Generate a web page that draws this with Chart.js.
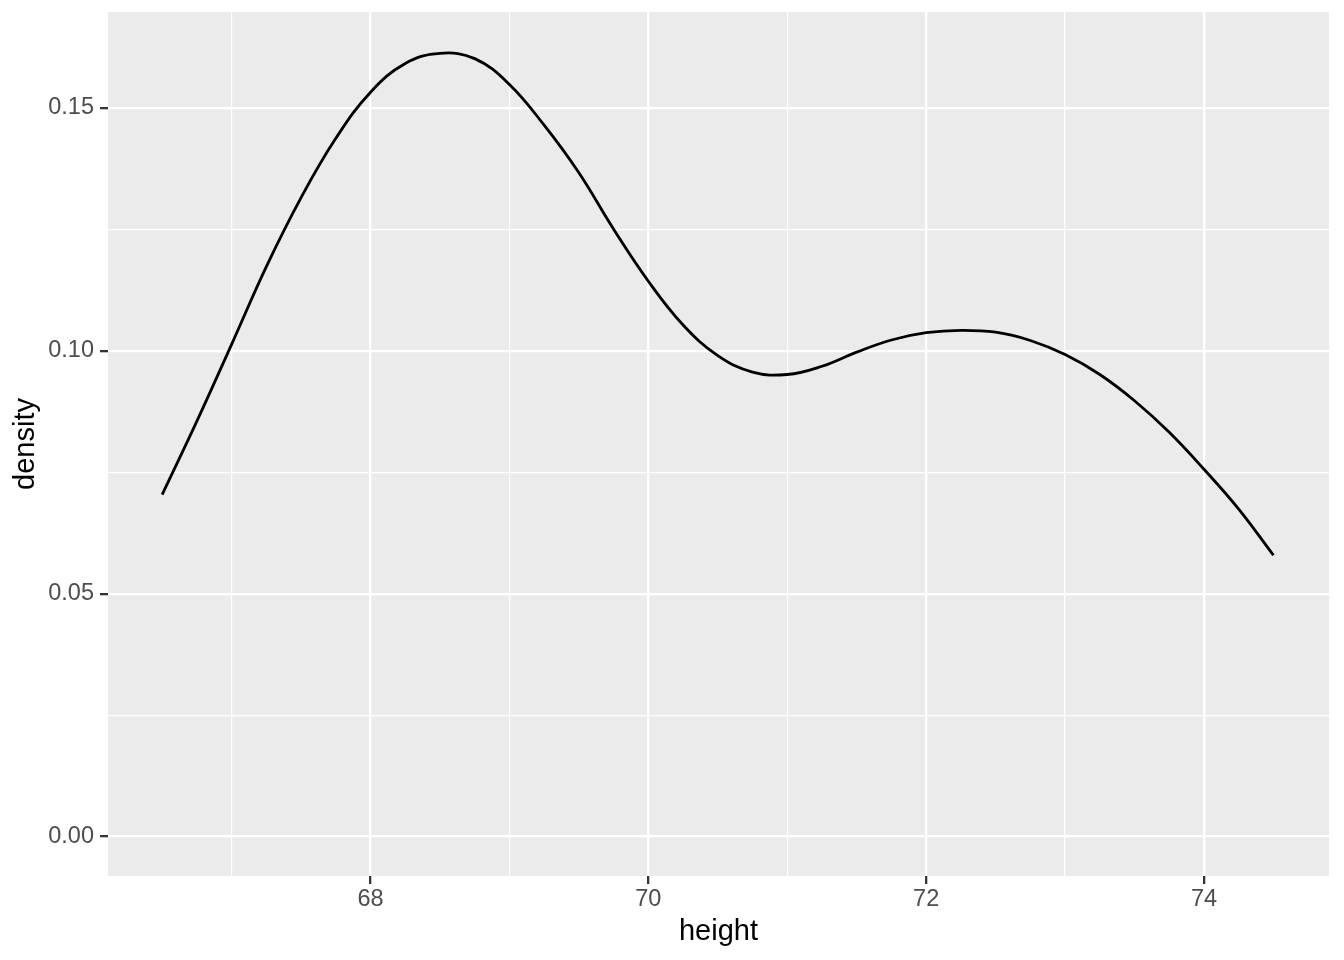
<!DOCTYPE html>
<html>
<head>
<meta charset="utf-8">
<script src="https://cdn.jsdelivr.net/npm/chart.js@4.4.0/dist/chart.umd.min.js"></script>
<style>
  html, body { margin: 0; padding: 0; background: #ffffff; }
  canvas { display: block; }
</style>
</head>
<body>
<canvas id="c" width="1344" height="960"></canvas>
<script>
// ---- data ----
const heights = [66.5, 66.75, 67.0, 67.25, 67.5, 67.75, 68.0, 68.25, 68.5, 68.75, 69.0, 69.25, 69.5, 69.75, 70.0, 70.25, 70.5, 70.75, 71.0, 71.25, 71.5, 71.75, 72.0, 72.25, 72.5, 72.75, 73.0, 73.25, 73.5, 73.75, 74.0, 74.25, 74.5];
const density = [0.0704, 0.0855, 0.1013, 0.1173, 0.1315, 0.1437, 0.1532, 0.1591, 0.1612, 0.1601, 0.1548, 0.1464, 0.1366, 0.1250, 0.1143, 0.1053, 0.0990, 0.0956, 0.0951, 0.0968, 0.0997, 0.1022, 0.1037, 0.1042, 0.1038, 0.1021, 0.0992, 0.0951, 0.0897, 0.0832, 0.0756, 0.0674, 0.0579];

const xMajor = [68, 70, 72, 74];
const xMinor = [67, 69, 71, 73];
const xTickLabels = ['68', '70', '72', '74'];
const yMajor = [0, 0.05, 0.10, 0.15];
const yMinor = [0.025, 0.075, 0.125];
const yTickLabels = ['0.00', '0.05', '0.10', '0.15'];

const xTitle = 'height';
const yTitle = 'density';

// ---- helpers ----
const eq = (a, b) => Math.abs(a - b) < 1e-9;
const majorIndex = (list, v) => list.findIndex(m => eq(m, v));

const panelBg = {
  id: 'panelBg',
  beforeDraw(chart) {
    const {ctx, chartArea: a} = chart;
    ctx.save();
    ctx.fillStyle = '#EBEBEB';
    ctx.fillRect(a.left, a.top, a.right - a.left, a.bottom - a.top);
    ctx.restore();
  }
};

const FONT = "'Liberation Sans', Arial, Helvetica, sans-serif";

function gridOpts(majors) {
  return {
    drawOnChartArea: true,
    drawTicks: true,
    tickLength: 8,
    color: '#FFFFFF',
    lineWidth: ctx => (majorIndex(majors, ctx.tick.value) >= 0 ? 2.3 : 1.2),
    tickColor: ctx => (majorIndex(majors, ctx.tick.value) >= 0 ? '#333333' : 'rgba(0,0,0,0)'),
    tickWidth: 2.3
  };
}

function zeroPad(scale) {
  scale.paddingTop = 0; scale.paddingBottom = 0;
  scale.paddingLeft = 0; scale.paddingRight = 0;
}

new Chart(document.getElementById('c'), {
  type: 'line',
  data: {
    datasets: [{
      data: heights.map((h, i) => ({x: h, y: density[i]})),
      borderColor: '#000000',
      borderWidth: 2.8,
      pointRadius: 0,
      fill: false,
      tension: 0.4
    }]
  },
  options: {
    responsive: false,
    animation: false,
    layout: { padding: { left: 0, top: 12, right: 15, bottom: 0 } },
    plugins: { legend: { display: false }, tooltip: { enabled: false }, title: { display: false } },
    scales: {
      x: {
        type: 'linear',
        min: 66.11,
        max: 74.9,
        border: { display: false },
        grid: gridOpts(xMajor),
        afterBuildTicks(scale) {
          scale.ticks = xMinor.concat(xMajor).sort((a, b) => a - b).map(v => ({value: v}));
        },
        afterFit(scale) { scale.height = 84; zeroPad(scale); },
        ticks: {
          autoSkip: false,
          maxRotation: 0,
          padding: 1,
          color: '#4D4D4D',
          font: { family: FONT, size: 23.5 },
          callback: v => { const i = majorIndex(xMajor, v); return i >= 0 ? xTickLabels[i] : ''; }
        },
        title: {
          display: true,
          text: xTitle,
          color: '#000000',
          font: { family: FONT, size: 29 },
          padding: { top: 0, bottom: 10.5 }
        }
      },
      y: {
        type: 'linear',
        min: -0.0081,
        max: 0.1697,
        border: { display: false },
        grid: gridOpts(yMajor),
        afterBuildTicks(scale) {
          scale.ticks = yMinor.concat(yMajor).sort((a, b) => a - b).map(v => ({value: v}));
        },
        afterFit(scale) { scale.width = 108; zeroPad(scale); },
        ticks: {
          autoSkip: false,
          padding: 6,
          color: '#4D4D4D',
          font: { family: FONT, size: 23.5 },
          callback: v => { const i = majorIndex(yMajor, v); return i >= 0 ? yTickLabels[i] : ''; }
        },
        title: {
          display: true,
          text: yTitle,
          color: '#000000',
          font: { family: FONT, size: 29 },
          padding: { top: 9, bottom: 0 }
        }
      }
    }
  },
  plugins: [panelBg]
});
</script>
</body>
</html>
